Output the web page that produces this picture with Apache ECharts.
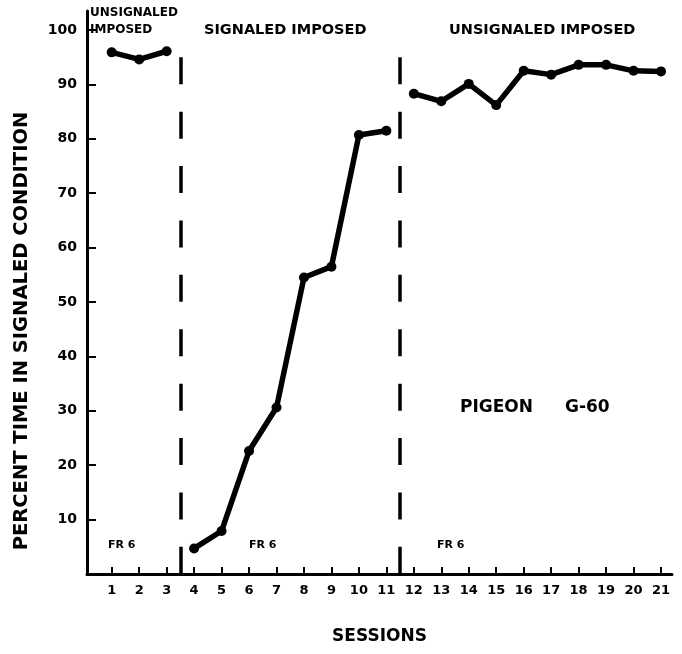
<!DOCTYPE html>
<html>
<head>
<meta charset="utf-8">
<script src="https://cdn.jsdelivr.net/npm/echarts@6/dist/echarts.min.js"></script>
<style>
  html, body { margin: 0; padding: 0; background: #fff; }
  #main { width: 682px; height: 654px; }
</style>
</head>
<body>
<div id="main"></div>
<script>
const myChart = echarts.init(document.getElementById('main'));

// sessions 1..21, split by condition
const sessions = [1, 2, 3, 4, 5, 6, 7, 8, 9, 10, 11, 12, 13, 14, 15, 16, 17, 18, 19, 20, 21];
const yTicks = [10, 20, 30, 40, 50, 60, 70, 80, 90, 100];

const unsignaledA = [95.9, 94.6, 96.1];              // sessions 1-3
const signaled = [4.7, 7.9, 22.6, 30.6, 54.5, 56.5, 80.7, 81.5]; // sessions 4-11
const unsignaledB = [88.3, 86.9, 90.1, 86.2, 92.5, 91.8, 93.6, 93.6, 92.5, 92.4]; // 12-21

const dividers = [3.5, 11.5];

const pts = (start, vals) => vals.map((v, i) => [start + i, v]);

const lineSeries = (data) => ({
  type: 'line',
  data: data,
  symbol: 'circle',
  symbolSize: 10,
  itemStyle: { color: '#000' },
  lineStyle: { color: '#000', width: 5.5 },
  z: 3,
});

const font = 'DejaVu Sans';
const txt = (left, top, text, size) => ({
  type: 'text', left: left, top: top,
  style: { text: text, font: 'bold ' + size + 'px ' + font, fill: '#000' },
});

myChart.setOption({
  animation: false,
  grid: { left: 87, right: 10, top: 11, bottom: 80 },
  xAxis: {
    type: 'value',
    min: 0.1,
    max: 21.4,
    name: 'SESSIONS',
    nameLocation: 'middle',
    nameGap: 54,
    nameTextStyle: { fontFamily: font, fontWeight: 'bold', fontSize: 17, color: '#000' },
    splitLine: { show: false },
    axisLine: { lineStyle: { color: '#000', width: 3 } },
    axisTick: {
      customValues: sessions,
      inside: true,
      length: 7,
      lineStyle: { color: '#000', width: 2 },
    },
    axisLabel: {
      customValues: sessions,
      margin: 10,
      fontFamily: font,
      fontWeight: 'bold',
      fontSize: 13,
      color: '#000',
    },
  },
  yAxis: {
    type: 'value',
    min: 0,
    max: 103.5,
    splitLine: { show: false },
    axisLine: { show: true, lineStyle: { color: '#000', width: 3 } },
    axisTick: {
      customValues: yTicks,
      inside: true,
      length: 9,
      lineStyle: { color: '#000', width: 2 },
    },
    axisLabel: {
      customValues: yTicks,
      margin: 10,
      fontFamily: font,
      fontWeight: 'bold',
      fontSize: 14,
      color: '#000',
    },
  },
  graphic: [
    {
      type: 'text', x: 22, y: 331, rotation: Math.PI / 2,
      style: {
        text: 'PERCENT TIME IN SIGNALED CONDITION',
        font: 'bold 19.5px ' + font, fill: '#000',
        align: 'center', verticalAlign: 'middle',
      },
    },
    {
      type: 'text', left: 90, top: 4,
      style: { text: 'UNSIGNALED\nIMPOSED', font: 'bold 12px ' + font, fill: '#000', lineHeight: 17 },
    },
    txt(204, 23, 'SIGNALED IMPOSED', 14.5),
    txt(449, 23, 'UNSIGNALED IMPOSED', 14.5),
    txt(460, 399, 'PIGEON', 17),
    txt(565, 399, 'G-60', 17),
    txt(108, 540, 'FR 6', 11),
    txt(249, 540, 'FR 6', 11),
    txt(437, 540, 'FR 6', 11),
  ],
  series: [
    Object.assign(lineSeries(pts(1, unsignaledA)), {
      markLine: {
        symbol: 'none',
        silent: true,
        label: { show: false },
        lineStyle: { color: '#000', width: 3.5, type: [27, 27.4] },
        data: dividers.map((x) => [{ coord: [x, 95] }, { coord: [x, 0] }]),
      },
    }),
    lineSeries(pts(4, signaled)),
    lineSeries(pts(12, unsignaledB)),
  ],
});
</script>
</body>
</html>
